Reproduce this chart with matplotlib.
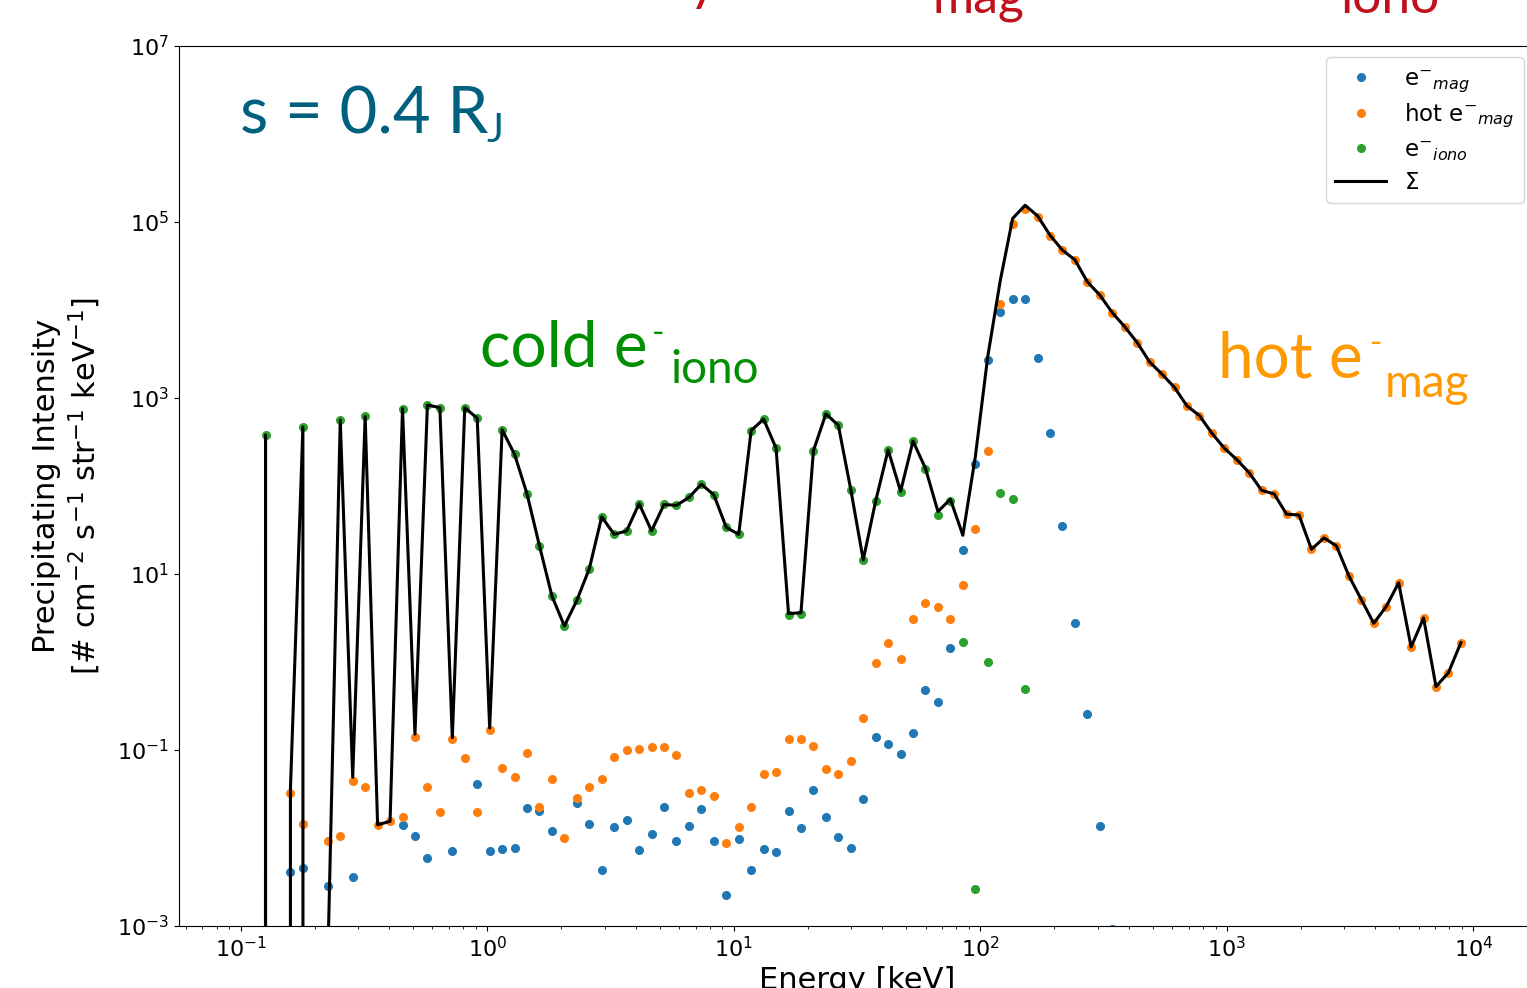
import numpy as np
import matplotlib
matplotlib.use("Agg")
import matplotlib.pyplot as plt
from matplotlib.ticker import FixedLocator, NullLocator

# energy grid of the model run: 100 log-spaced bins, 0.1 keV .. 10 MeV
energy = np.logspace(-1, 4, 100)

N = None
NEG = float("-inf")  # total <= 0 at this bin

# log10 of precipitating intensity (None = not plotted)
e_mag_log = [
    N, N, N, N, -2.39, -2.34, N, -2.54, N, -2.44,
    N, N, N, -1.85, -1.98, -2.23, N, -2.15, N, -1.39,
    -2.15, -2.13, -2.11, -1.66, -1.69, -1.92, N, -1.60, -1.84, -2.36,
    -1.87, -1.80, -2.14, -1.95, -1.65, -2.03, -1.86, -1.67, -2.03, -2.65,
    -2.01, -2.36, -2.12, -2.16, -1.69, -1.89, -1.45, -1.76, -1.99, -2.11,
    -1.56, -0.85, -0.93, -1.05, -0.81, -0.32, -0.46, 0.16, 1.27, 2.25,
    3.43, 3.98, 4.12, 4.12, 3.46, 2.60, 1.54, 0.44, -0.59, -1.86,
    -3.03, N, N, N, N, N, N, N, N, N,
    N, N, N, N, N, N, N, N, N, N,
    N, N, N, N, N, N, N, N, N, N,
]

hot_mag_log = [
    N, N, N, N, -1.49, -1.84, N, -2.03, -1.98, -1.35,
    -1.42, -1.85, -1.81, -1.76, -0.85, -1.42, -1.70, -0.88, -1.09, -1.70,
    -0.77, -1.20, -1.31, -1.03, -1.65, -1.33, -2.00, -1.55, -1.42, -1.33,
    -1.08, -1.00, -0.99, -0.97, -0.97, -1.06, -1.49, -1.46, -1.52, -2.06,
    -1.88, -1.65, -1.27, -1.25, -0.87, -0.87, -0.96, -1.22, -1.27, -1.13,
    -0.64, -0.01, 0.22, 0.03, 0.49, 0.67, 0.62, 0.49, 0.88, 1.51,
    2.40, 4.07, 4.98, 5.15, 5.06, 4.84, 4.68, 4.57, 4.32, 4.17,
    3.97, 3.81, 3.63, 3.41, 3.27, 3.12, 2.91, 2.80, 2.60, 2.43,
    2.30, 2.15, 1.95, 1.91, 1.68, 1.67, 1.28, 1.41, 1.32, 0.98,
    0.71, 0.44, 0.63, 0.90, 0.17, 0.50, -0.28, -0.12, 0.22, N,
]

e_iono_log = [
    N, N, 2.58, N, N, 2.67, N, N, 2.75, N,
    2.79, N, N, 2.88, N, 2.92, 2.89, N, 2.89, 2.77,
    N, 2.64, 2.36, 1.91, 1.32, 0.75, 0.41, 0.70, 1.06, 1.65,
    1.45, 1.49, 1.80, 1.49, 1.79, 1.78, 1.87, 2.02, 1.90, 1.53,
    1.45, 2.63, 2.76, 2.43, 0.53, 0.55, 2.40, 2.82, 2.69, 1.96,
    1.16, 1.83, 2.41, 1.93, 2.51, 2.19, 1.67, 1.83, 0.23, -2.58,
    0.00, 1.92, 1.85, -0.31, N, N, N, N, N, N,
    N, N, N, N, N, N, N, N, N, N,
    N, N, N, N, N, N, N, N, N, N,
    N, N, N, N, N, N, N, N, N, N,
]

total_log = [
    NEG, NEG, 2.58, NEG, -1.44, 2.67, NEG, -3.4, 2.75, -1.31,
    2.79, -1.85, -1.81, 2.88, -0.82, 2.92, 2.89, -0.86, 2.89, 2.77,
    -0.75, 2.64, 2.36, 1.91, 1.32, 0.75, 0.41, 0.70, 1.06, 1.65,
    1.45, 1.49, 1.80, 1.49, 1.79, 1.78, 1.87, 2.02, 1.90, 1.53,
    1.45, 2.63, 2.76, 2.43, 0.55, 0.56, 2.40, 2.82, 2.69, 1.96,
    1.16, 1.83, 2.41, 1.94, 2.51, 2.20, 1.71, 1.85, 1.44, 2.33,
    3.47, 4.33, 5.04, 5.19, 5.07, 4.85, 4.68, 4.57, 4.32, 4.17,
    3.97, 3.81, 3.63, 3.41, 3.27, 3.12, 2.91, 2.80, 2.60, 2.43,
    2.30, 2.15, 1.95, 1.91, 1.68, 1.67, 1.28, 1.41, 1.32, 0.98,
    0.71, 0.44, 0.63, 0.90, 0.17, 0.50, -0.28, -0.12, 0.22, N,
]


def to_lin(vals):
    return np.array([np.nan if v is None else 10.0 ** v for v in vals])


W, H = 1527, 988
fig = plt.figure(figsize=(W / 100, H / 100), dpi=100)
ax = fig.add_axes([179 / W, 1 - 926 / H, (1535 - 179) / W, (926 - 46) / H])

ax.plot(energy, to_lin(e_mag_log), "o", color="tab:blue", ms=5.5, label=r"e$^{-}$$_{mag}$")
ax.plot(energy, to_lin(hot_mag_log), "o", color="tab:orange", ms=5.5, label=r"hot e$^{-}$$_{mag}$")
ax.plot(energy, to_lin(e_iono_log), "o", color="tab:green", ms=5.5, label=r"e$^{-}$$_{iono}$")
ax.plot(energy, to_lin(total_log), "-", color="k", lw=2.2, label=r"$\Sigma$")

ax.set_xscale("log")
ax.set_yscale("log", nonpositive="clip")
ax.set_xlim(10 ** -1.25, 10 ** 4.25)
ax.set_ylim(1e-3, 1e7)
ax.yaxis.set_major_locator(FixedLocator([1e-3, 1e-1, 1e1, 1e3, 1e5, 1e7]))
ax.yaxis.set_minor_locator(NullLocator())
ax.tick_params(labelsize=16)

ax.set_xlabel("Energy [keV]", fontsize=22)
ax.set_ylabel("Precipitating Intensity\n[# cm$^{-2}$ s$^{-1}$ str$^{-1}$ keV$^{-1}$]", fontsize=22)
ax.yaxis.set_label_coords(-0.056, 0.5)

ax.legend(loc="upper right", fontsize=16.5, handlelength=2.2, labelspacing=0.35)


def px_text(x, y, s, size, color):
    fig.text(x / W, 1 - y / H, s, fontsize=size, color=color, family="Lato",
             ha="left", va="baseline")


teal = "#006080"
green = "#008f00"
orange = "#ff9900"
red = "#c0101c"

px_text(240, 133, "s = 0.4 R", 47, teal)
px_text(486, 142, "J", 29, teal)

px_text(480, 367, "cold e", 46, green)
px_text(652, 343, "-", 24, green)
px_text(670, 383, "iono", 33, green)

px_text(1218, 378, "hot e", 46, orange)
px_text(1370, 353, "-", 24, orange)
px_text(1385, 397, "mag", 33, orange)

# pieces of the slide title that sit above the crop
px_text(688, -1, "y", 40, red)
px_text(933, 13, "mag", 36, red)
px_text(1340, 13, "iono", 37, red)

fig.savefig("out.png", dpi=100)
